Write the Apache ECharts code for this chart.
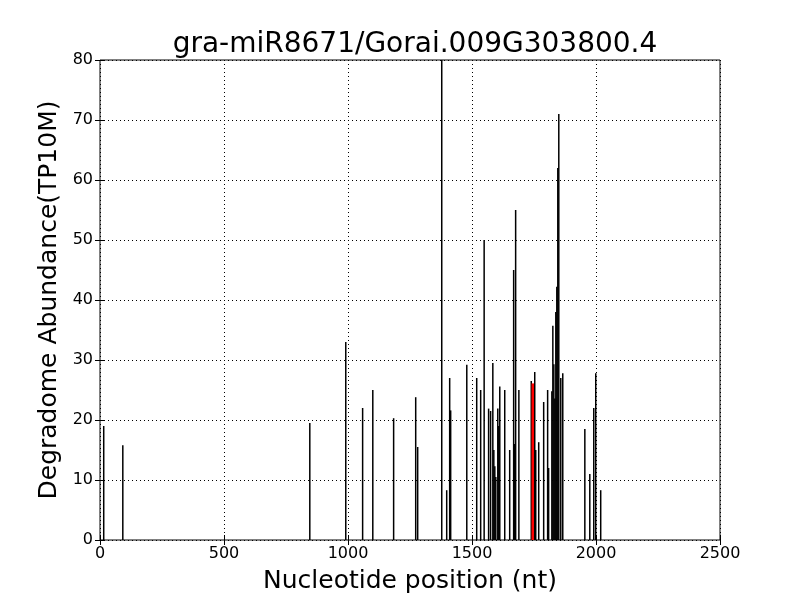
<!DOCTYPE html>
<html><head><meta charset="utf-8">
<script src="https://cdn.jsdelivr.net/npm/echarts@6/dist/echarts.min.js"></script>
<style>html,body{margin:0;padding:0;background:#fff}#c{width:800px;height:600px}</style>
</head><body><div id="c"></div>
<script>
const titleText = "gra-miR8671/Gorai.009G303800.4";
const xName = "Nucleotide position (nt)";
const yName = "Degradome Abundance(TP10M)";
const positions = [17,94,848,993,1061,1102,1186,1275,1283,1380,1400,1412,1416,1481,1521,1537,1551,1569,1577,1586,1590,1594,1598,1606,1610,1614,1634,1654,1670,1674,1678,1691,1741,1755,1759,1771,1791,1807,1811,1824,1828,1832,1836,1840,1844,1848,1852,1860,1868,1957,1977,1993,2001,2021];
const values =    [19,15.8,19.5,33,22,25,20.3,23.8,15.5,90,8.3,27,21.6,29.2,27,25,50,21.9,21.5,29.5,15,12.3,10.5,21.9,19,25.6,25,15,45,16,55,25,26.5,28,15,16.3,23,25,12,24.8,35.7,29.3,23.6,38,42.2,62,71,27,27.8,18.5,11,22,27.8,8.3];
const redPositions = [1745];
const redValues = [26.1];
const xTicks = [0,500,1000,1500,2000,2500];
const yTicks = [0,10,20,30,40,50,60,70,80];

const chart = echarts.init(document.getElementById('c'), null, {renderer:'canvas'});
const font = 'DejaVu Sans';
const blackData = positions.map((p,i)=>[p, values[i]]);
const redData = redPositions.map((p,i)=>[p, redValues[i]]);
const axisCommon = {
  axisLine:{show:false},
  axisTick:{show:true, inside:true, length:5, lineStyle:{color:'#000'}},
};
chart.setOption({
  animation:false,
  backgroundColor:'#fff',
  title:{text:titleText, left:410, textAlign:'center', top:26, textStyle:{fontFamily:font, fontSize:28, fontWeight:'normal', color:'#000'}},
  grid:{left:100, right:80, top:60, bottom:60, show:true, borderColor:'#000', borderWidth:1, backgroundColor:'#fff'},
  xAxis:[{
    type:'value', min:xTicks[0], max:xTicks[xTicks.length-1], interval:500,
    name:xName, nameLocation:'middle', nameGap:29, nameTextStyle:{fontFamily:font, fontSize:25, color:'#000'},
    ...axisCommon,
    axisLabel:{fontFamily:font, fontSize:16, color:'#000', margin:6, formatter:v=>String(v)},
    splitLine:{show:true, lineStyle:{color:'#000', type:[1,3], width:1}}
  },{
    type:'value', position:'top', min:xTicks[0], max:xTicks[xTicks.length-1], interval:500,
    ...axisCommon, axisLabel:{show:false}, splitLine:{show:false}
  }],
  yAxis:[{
    type:'value', min:yTicks[0], max:yTicks[yTicks.length-1], interval:10,
    name:yName, nameLocation:'middle', nameGap:33, nameTextStyle:{fontFamily:font, fontSize:25, color:'#000'},
    ...axisCommon,
    axisLabel:{fontFamily:font, fontSize:16, color:'#000', margin:7, formatter:v=>String(v)},
    splitLine:{show:true, lineStyle:{color:'#000', type:[1,3], width:1}}
  },{
    type:'value', position:'right', min:yTicks[0], max:yTicks[yTicks.length-1], interval:10,
    ...axisCommon, axisLabel:{show:false}, splitLine:{show:false}
  }],
  series:[{
    type:'bar', data:blackData, barWidth:1.5, barGap:'-100%', clip:true,
    itemStyle:{color:'#000'}, silent:true
  },{
    type:'bar', data:redData, barWidth:2.5, barGap:'-100%', clip:true,
    itemStyle:{color:'#ff0000'}, silent:true
  }]
});
</script></body></html>
